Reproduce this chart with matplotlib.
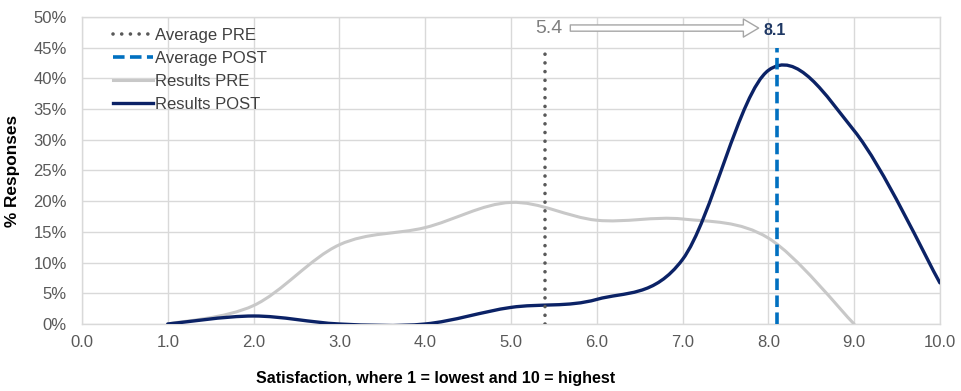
import matplotlib
matplotlib.use("Agg")
import matplotlib.pyplot as plt
from matplotlib.path import Path
from matplotlib.patches import PathPatch, FancyArrowPatch
from matplotlib.lines import Line2D
from matplotlib.ticker import PercentFormatter

plt.rcParams['font.family'] = ['Liberation Sans', 'DejaVu Sans']

# Survey results: share of responses per satisfaction score
scores_pre = [1, 2, 3, 4, 5, 6, 7, 8, 9]
results_pre = [0.0, 3.0, 12.9, 15.7, 19.8, 16.9, 17.1, 14.0, 0.0]
scores_post = [1, 2, 3, 4, 5, 6, 7, 8, 9, 10]
results_post = [0.0, 1.3, 0.0, 0.0, 2.7, 4.0, 10.5, 41.3, 31.5, 6.7]
avg_pre = 5.4
avg_post = 8.1
avg_line_top = 45

x_ticks = list(range(0, 11))
y_ticks = [i * 5 for i in range(0, 11)]


def smooth_path(xs, ys):
    """Cubic Bezier path through the points (Catmull-Rom style smoothing)."""
    pts = list(zip(xs, ys))
    verts = [pts[0]]
    codes = [Path.MOVETO]
    n = len(pts)
    for i in range(n - 1):
        p0 = pts[i - 1] if i > 0 else pts[i]
        p1 = pts[i]
        p2 = pts[i + 1]
        p3 = pts[i + 2] if i + 2 < n else pts[i + 1]
        c1 = (p1[0] + (p2[0] - p0[0]) / 6, p1[1] + (p2[1] - p0[1]) / 6)
        c2 = (p2[0] - (p3[0] - p1[0]) / 6, p2[1] - (p3[1] - p1[1]) / 6)
        verts += [c1, c2, p2]
        codes += [Path.CURVE4] * 3
    return Path(verts, codes)


fig = plt.figure(figsize=(9.62, 3.91), dpi=100)
ax = fig.add_axes([0.0852, 0.1714, 0.8918, 0.7851])

grid_color = '#d9d9d9'
ax.set_xlim(0, 10)
ax.set_ylim(0, 50)
ax.set_xticks(x_ticks)
ax.set_xticklabels([f"{v:.1f}" for v in x_ticks])
ax.set_yticks(y_ticks)
ax.yaxis.set_major_formatter(PercentFormatter(decimals=0))
ax.grid(True, color=grid_color, linewidth=1.0)
ax.set_axisbelow(True)
for sp in ax.spines.values():
    sp.set_color(grid_color)
    sp.set_linewidth(1.0)
ax.tick_params(length=0, labelsize=12, colors='#595959')
ax.tick_params(axis='y', pad=11)
ax.tick_params(axis='x', pad=8)

pre_color = '#c8c8c8'
post_color = '#0b2266'
avg_pre_color = '#595959'
avg_post_color = '#0070c0'
dot_style = (0, (0.01, 2.4))
dash_style = (0, (3.2, 1.5))

ax.add_patch(PathPatch(smooth_path(scores_pre, results_pre), fill=False,
                       edgecolor=pre_color, linewidth=2.2, zorder=3,
                       capstyle='round'))
ax.add_patch(PathPatch(smooth_path(scores_post, results_post), fill=False,
                       edgecolor=post_color, linewidth=2.4, zorder=4,
                       capstyle='round'))

ax.plot([avg_pre, avg_pre], [0, avg_line_top], color=avg_pre_color,
        linestyle=dot_style, linewidth=2.6, dash_capstyle='round', zorder=5)
ax.plot([avg_post, avg_post], [0, avg_line_top], color=avg_post_color,
        linestyle=dash_style, linewidth=2.6, zorder=5)

# Shift from the PRE average to the POST average
ax.text(avg_pre + 0.04, 48.2, f"{avg_pre:.1f}", color='#7f7f7f', fontsize=14,
        ha='center', va='center', zorder=6)
ax.text(avg_post - 0.02, 47.8, f"{avg_post:.1f}", color='#1f3864', fontsize=11.5,
        fontweight='bold', ha='center', va='center', zorder=6)
arrow = FancyArrowPatch((5.66, 48.2), (7.92, 48.2),
                        arrowstyle='simple,head_length=1.1,head_width=1.3,tail_width=0.45',
                        mutation_scale=10, facecolor='white', edgecolor='#a6a6a6',
                        linewidth=1.0, zorder=6)
ax.add_patch(arrow)

ax.set_xlabel("Satisfaction, where 1 = lowest and 10 = highest", fontsize=11.5,
              fontweight='bold')
ax.xaxis.set_label_coords((436 - 82) / 858, -(379 - 324) / 307)
ax.xaxis.label.set_va('center')
ax.set_ylabel("% Responses", fontsize=12.4, fontweight='bold')
ax.yaxis.set_label_coords(-(82 - 13) / 858, 0.5)
ax.yaxis.label.set_va('center')

handles = [
    Line2D([], [], color=avg_pre_color, linestyle=dot_style, linewidth=2.6,
           dash_capstyle='round'),
    Line2D([], [], color=avg_post_color, linestyle=dash_style, linewidth=2.6),
    Line2D([], [], color=pre_color, linewidth=2.2),
    Line2D([], [], color=post_color, linewidth=2.4),
]
labels = ["Average PRE", "Average POST", "Results PRE", "Results POST"]
leg = ax.legend(handles, labels, loc='upper left',
                bbox_to_anchor=((113 - 82) / 858, (324 - 28) / 307),
                frameon=False, fontsize=12, handlelength=2.4, handletextpad=0.1,
                labelspacing=0.48, borderaxespad=0.0, borderpad=0.0)
for t in leg.get_texts():
    t.set_color('#404040')

fig.savefig("out.png", dpi=100)
